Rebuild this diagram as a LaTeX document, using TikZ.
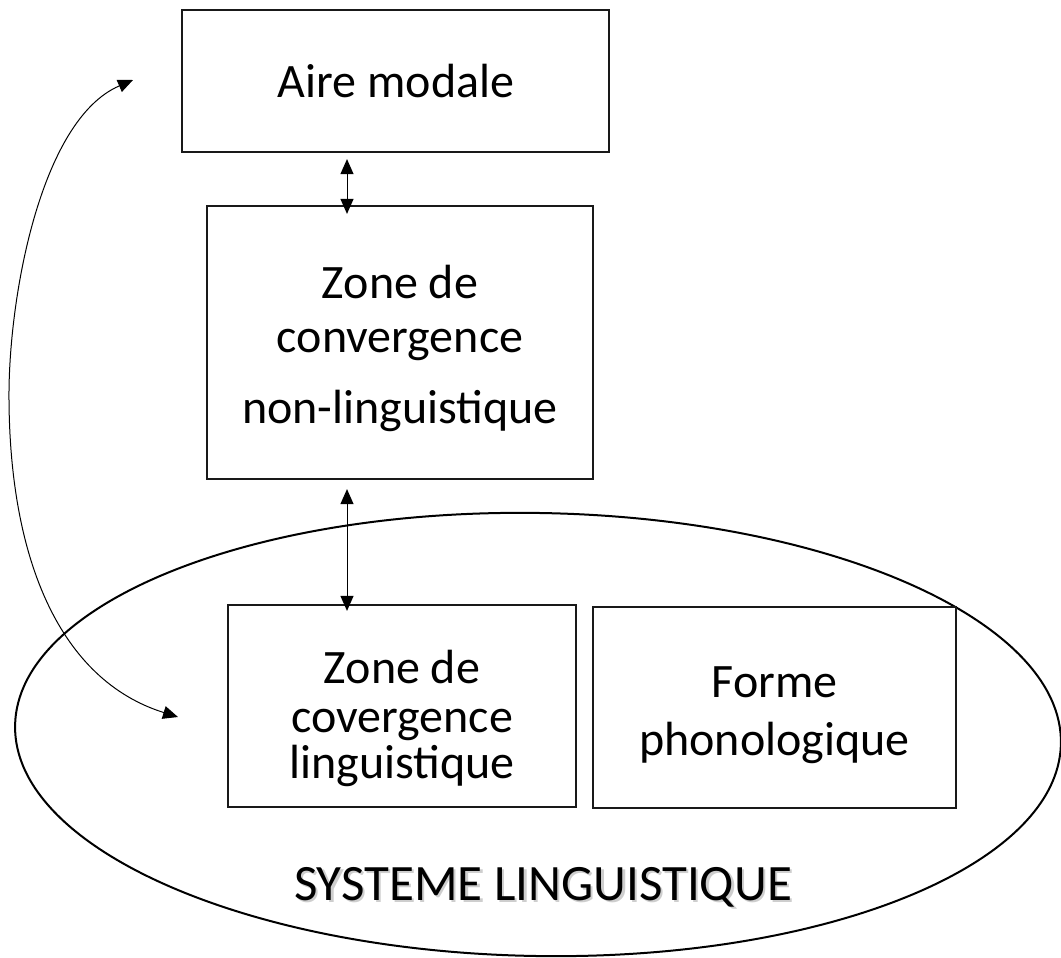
\documentclass[tikz,border=0pt]{standalone}
\usepackage{fontspec}
\setmainfont{Carlito}
\usetikzlibrary{arrows.meta,shapes.geometric}
\tikzset{
  boxshape/.style={draw=black!90, line width=2.2pt, rectangle, inner sep=0pt},
  txt/.style={anchor=base, inner sep=0pt, font=\fontsize{48}{58}\selectfont},
  bigtxt/.style={txt, font=\fontsize{51}{60}\selectfont},
  dbl/.style={line width=1pt, {Triangle[length=15pt,width=13pt]}-{Triangle[length=15pt,width=13pt]}},
  shadowtxt/.style={bigtxt, text=black!35, opacity=0.55}
}
\begin{document}
\begin{tikzpicture}[x=1pt,y=-1pt]
\useasboundingbox (0,0) rectangle (1061,958);
% container ellipse
\node[draw, line width=2pt, ellipse, inner sep=0pt, minimum width=1046pt, minimum height=443pt, rotate=-1] (sys) at (538,734.5) {};
% boxes
\node[boxshape, minimum width=427pt, minimum height=142pt] (b1) at (395.5,81) {};
\node[boxshape, minimum width=386pt, minimum height=273pt] (b2) at (400,342.5) {};
\node[boxshape, minimum width=348pt, minimum height=202pt] (b3) at (402,706) {};
\node[boxshape, minimum width=363pt, minimum height=201pt] (b4) at (774.5,707.5) {};
% texts
\node[txt] (t1) at (396,97) {Aire modale};
\node[txt] (t2a) at (400,298) {Zone de};
\node[txt] (t2b) at (400,352) {convergence};
\node[txt] (t2c) at (400,423) {non-linguistique};
\node[txt] (t3a) at (402,683) {Zone de};
\node[txt] (t3b) at (402,732) {covergence};
\node[txt] (t3c) at (402,778) {linguistique};
\node[txt] (t4a) at (774.5,697) {Forme};
\node[txt] (t4b) at (774.5,755) {phonologique};
\node[shadowtxt] (t5s) at (545.5,902.5) {SYSTEME LINGUISTIQUE};
\node[bigtxt] (t5) at (543,900) {SYSTEME LINGUISTIQUE};
% connectors
\coordinate (a1t) at (b1.south -| 347,0);
\coordinate (a1b) at (b2.north -| 347,0);
\draw[dbl] ([yshift=-6pt]a1t) -- ([yshift=-9pt]a1b);
\coordinate (a2t) at (b2.south -| 347,0);
\coordinate (a2b) at (b3.north -| 347,0);
\draw[dbl] ([yshift=-9pt]a2t) -- ([yshift=-7pt]a2b);
\coordinate (c1) at (133,80);
\coordinate (c2) at (178,717);
\draw[dbl] (c1) .. controls (40,120) and (8,300) .. (9,400) .. controls (10,560) and (60,680) .. (c2);
\end{tikzpicture}
\end{document}
